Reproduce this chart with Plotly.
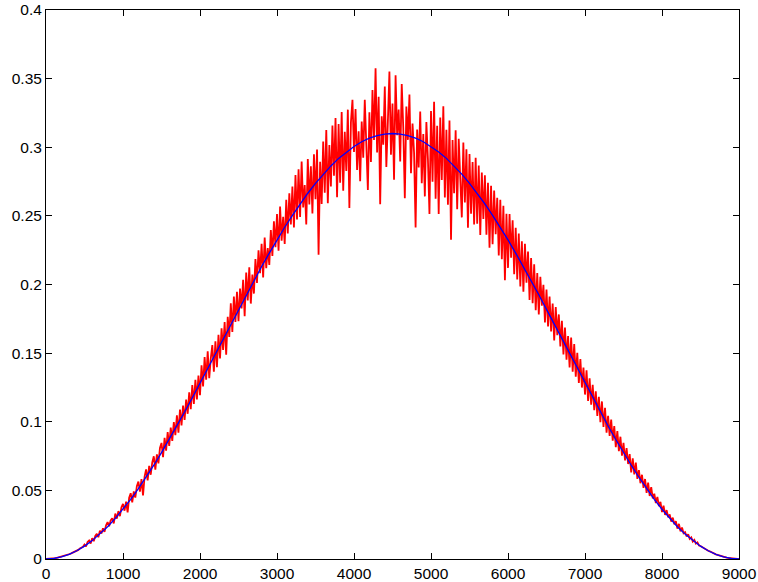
import plotly.graph_objects as go

# noisy (red) series: x every 20 units, values in thousandths read/
red_x = list(range(0, 9001, 20))
red_milli = [
    0, 0.02, 0.06, 0.14, 0.25,
    0.4, 0.6, 0.8, 1.1, 1.3,
    1.6, 1.8, 2.3, 2.6, 3.0,
    3.5, 3.8, 4.5, 5.0, 5.5,
    6.2, 6.6, 7.6, 8.0, 8.9,
    10.6, 9.1, 12.4, 13.5, 11.3,
    15.2, 13.0, 16.8, 18.4, 15.9,
    20.7, 18.5, 22.4, 19.8, 24.6,
    26.9, 23.8, 28.1, 29.7, 25.9,
    33.1, 29.4, 34.9, 31.2, 37.6,
    40.1, 35.2, 41.8, 33.9, 44.6,
    47.9, 41.2, 49.3, 44.7, 53.1,
    56.4, 49.1, 58.2, 46.3, 59.8,
    65.3, 57.2, 67.9, 61.4, 70.3,
    74.8, 65.1, 76.2, 69.7, 80.9,
    84.6, 74.2, 88.3, 78.9, 92.5,
    82.4, 95.8, 86.1, 99.7, 90.3,
    104.6, 92.1, 108.9, 97.4, 111.8,
    101.3, 116.2, 105.8, 121.4, 109.2,
    126.8, 112.9, 130.5, 116.3, 133.7,
    119.4, 141.2, 125.8, 147.1, 130.6,
    151.3, 131.7, 146.2, 155.9, 136.4,
    158.7, 139.8, 163.4, 146.2, 168.1,
    152.3, 172.6, 148.9, 176.4, 161.8,
    186.3, 165.4, 191.2, 172.8, 194.6,
    173.2, 197.1, 182.6, 203.4, 176.9,
    208.7, 188.3, 212.5, 186.1, 207.2,
    193.4, 218.6, 201.2, 224.9, 208.3,
    229.7, 205.1, 234.2, 211.8, 226.5,
    214.3, 239.6, 220.8, 246.1, 227.2,
    251.4, 224.6, 256.8, 231.9, 249.3,
    229.5, 261.7, 237.2, 266.4, 243.8,
    271.3, 241.6, 279.8, 247.3, 283.9,
    249.2, 289.6, 256.1, 272.4, 243.8,
    291.5, 258.3, 286.2, 251.7, 294.8,
    262.1, 298.3, 221.6, 289.4, 258.7,
    304.2, 266.8, 312.5, 259.3, 301.7,
    271.4, 315.8, 279.2, 321.3, 263.5,
    316.9, 274.2, 325.6, 268.3, 311.2,
    282.7, 327.4, 255.8, 318.1, 334.6,
    296.5, 327.9, 283.4, 311.6, 275.2,
    318.7, 292.3, 334.6, 301.8, 268.9,
    325.4, 289.2, 341.7, 305.3, 357.6,
    296.1, 336.8, 258.4, 322.5, 301.9,
    344.2, 285.7, 318.9, 355.1, 294.6,
    331.8, 276.3, 352.4, 308.7, 327.5,
    289.6, 346.1, 314.2, 262.8, 329.7,
    305.4, 338.5, 281.1, 317.3, 296.2,
    241.5, 312.9, 285.3, 326.1, 273.8,
    309.7, 264.2, 318.4, 291.5, 251.3,
    326.4, 274.8, 333.1, 262.5, 315.7,
    251.3, 321.6, 276.2, 329.8, 263.4,
    312.7, 258.1, 319.4, 232.6, 305.2,
    266.5, 312.3, 254.8, 306.1, 271.2,
    248.9, 303.4, 259.7, 298.6, 241.3,
    295.1, 251.6, 289.3, 243.7, 292.4,
    244.2, 286.7, 236.1, 281.5, 247.8,
    279.6, 236.3, 274.2, 226.8, 271.9,
    229.4, 268.5, 236.7, 263.2, 221.1,
    261.8, 218.4, 257.3, 203.2, 251.6,
    212.1, 251.3, 219.6, 246.8, 207.5,
    241.4, 203.7, 237.2, 198.6, 231.5,
    194.8, 229.6, 201.3, 224.1, 188.7,
    219.2, 186.4, 214.8, 181.2, 208.3,
    178.1, 205.7, 184.6, 199.8, 172.3,
    196.4, 169.5, 191.2, 165.8, 186.1,
    159.3, 183.6, 163.1, 178.2, 154.8,
    173.5, 149.1, 168.7, 145.2, 162.4,
    139.6, 161.3, 136.4, 156.7, 132.8,
    150.2, 128.3, 145.7, 124.9, 139.4,
    119.8, 137.5, 115.2, 131.6, 112.4,
    126.9, 108.4, 122.1, 104.3, 118.2,
    99.6, 114.8, 96.3, 110.2, 92.1,
    104.3, 89.7, 101.5, 86.2, 96.8,
    81.4, 93.2, 78.6, 89.1, 75.3,
    84.6, 71.9, 80.8, 69.2, 76.4,
    63.1, 73.4, 61.7, 70.2, 58.4,
    64.8, 55.2, 61.4, 51.8, 58.3,
    48.2, 55.6, 45.9, 52.4, 44.1,
    47.6, 40.8, 45.2, 38.5, 41.7,
    34.2, 38.9, 32.1, 35.6, 30.4,
    32.4, 27.2, 30.1, 25.3, 27.6,
    22.1, 25.6, 20.2, 22.9, 18.8,
    19.6, 16.4, 18.1, 14.7, 15.8,
    12.7, 13.9, 11.2, 12.1, 9.9,
    9.5, 8.7, 8.3, 7.3, 6.9,
    6.0, 5.6, 4.9, 4.5, 3.9,
    3.4, 3.0, 2.6, 2.2, 1.8,
    1.5, 1.3, 1.0, 0.8, 0.6,
    0.38, 0.27, 0.16, 0.08, 0.02,
    0.0,
]
red_y = [v / 1000 for v in red_milli]

# smooth (blue) series: x every 100 units, values in thousandths
blue_x = list(range(0, 9001, 100))
blue_milli = [
    0.0, 0.38, 1.51, 3.39, 6.0, 9.37, 13.4, 18.14, 23.55, 29.6,
    36.27, 43.5, 51.28, 59.57, 68.33, 77.5, 87.05, 96.93, 107.1, 117.5,
    128.1, 138.8, 149.6, 160.4, 171.2, 181.9, 192.5, 202.9, 213.1, 222.9,
    232.5, 241.7, 250.4, 258.7, 266.5, 273.7, 280.4, 286.4, 291.9, 296.6,
    300.6, 304.0, 306.6, 308.5, 309.6, 310.0,
    309.6, 308.5, 306.6, 304.0, 300.6,
    296.6, 291.9, 286.4, 280.4, 273.7, 266.5, 258.7, 250.4, 241.7, 232.5,
    222.9, 213.1, 202.9, 192.5, 181.9, 171.2, 160.4, 149.6, 138.8, 128.1,
    117.5, 107.1, 96.93, 87.05, 77.5, 68.33, 59.57, 51.28, 43.5, 36.27,
    29.6, 23.55, 18.14, 13.4, 9.37, 6.0, 3.39, 1.51, 0.38, 0.0,
]
blue_y = [v / 1000 for v in blue_milli]

x_ticks = [0, 1000, 2000, 3000, 4000, 5000, 6000, 7000, 8000, 9000]
y_ticks = [0, 0.05, 0.1, 0.15, 0.2, 0.25, 0.3, 0.35, 0.4]
y_tick_labels = ["0", "0.05", "0.1", "0.15", "0.2", "0.25", "0.3", "0.35", "0.4"]

fig = go.Figure()
fig.add_trace(go.Scatter(x=red_x, y=red_y, mode="lines",
                         line=dict(color="#ff0000", width=1.8), showlegend=False))
fig.add_trace(go.Scatter(x=blue_x, y=blue_y, mode="lines",
                         line=dict(color="#0000ff", width=1.3),
                         showlegend=False))

axis_common = dict(showgrid=False, zeroline=False, showline=True, linecolor="black",
                   linewidth=1, mirror="ticks", ticks="inside", ticklen=6,
                   tickcolor="black", tickwidth=1, automargin=False,
                   tickfont=dict(family="Liberation Sans, Arial, sans-serif",
                                 size=15.5, color="black"))

fig.update_layout(
    width=758, height=582,
    margin=dict(l=46, r=19, t=10, b=23),
    paper_bgcolor="white", plot_bgcolor="white",
    xaxis=dict(range=[0, 9000], tickvals=x_ticks, ticktext=[str(t) for t in x_ticks],
               **axis_common),
    yaxis=dict(range=[0, 0.4], tickvals=y_ticks, ticktext=y_tick_labels,
               **axis_common),
)

fig.write_html("out.html")
